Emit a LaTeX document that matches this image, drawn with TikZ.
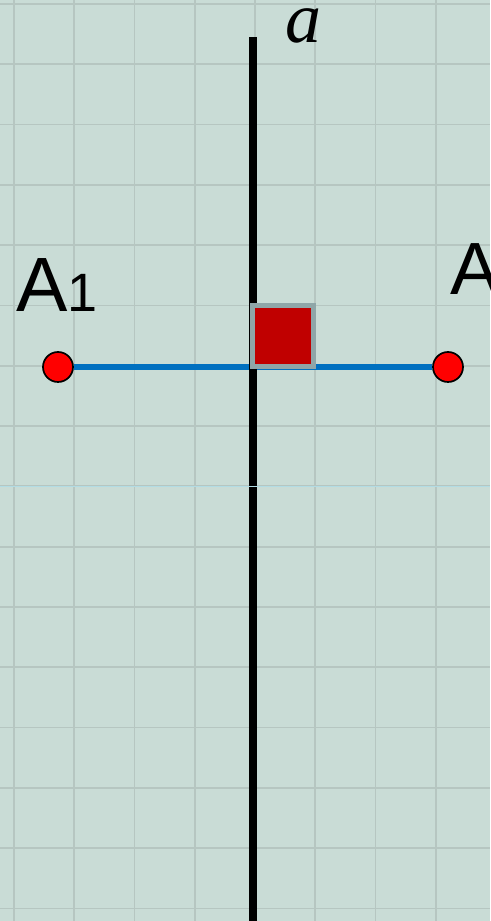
\documentclass[tikz,border=0pt]{standalone}
\usepackage{fontspec}
\setmainfont{Liberation Serif}
\newfontfamily\labelfont{Liberation Sans}
\usetikzlibrary{positioning}

\definecolor{paper}{HTML}{C9DCD6}
\definecolor{gridgray}{HTML}{B6C6C1}
\definecolor{segblue}{HTML}{0070C0}
\definecolor{markred}{HTML}{C00000}
\definecolor{markgray}{HTML}{8FA6A8}
\definecolor{paleblue}{HTML}{B2DCE4}

\tikzset{dot/.style={circle,fill=red,draw=black,line width=1.7pt,minimum size=30pt,inner sep=0pt}}
\tikzset{lbl/.style={inner sep=0pt,anchor=base west}}

\begin{document}
\begin{tikzpicture}[x=1pt,y=1pt]
  \useasboundingbox[fill=paper] (0,0) rectangle (490,921);
  % grid
  \foreach \i in {0,...,7} \draw[gridgray,line width=1.8pt] (14+60.25*\i,0) -- (14+60.25*\i,921);
  \foreach \j in {0,...,15} \draw[gridgray,line width=1.8pt] (0,917-60.3*\j) -- (490,917-60.3*\j);

  \node[dot] (A1) at (58,554) {};
  \node[dot] (A)  at (448,554) {};
  \coordinate (top) at (253,884);
  \coordinate (bot) at (253,0);
  \coordinate (fl) at (0,434.6);
  \coordinate (fr) at (490,434.6);

  \node[lbl] (lA1) at (16,609) {\labelfont\fontsize{77}{77}\selectfont A\fontsize{54}{54}\selectfont 1};
  \node[lbl] (lA)  at (450,626) {\labelfont\fontsize{74}{74}\selectfont A};
  \node[lbl] (la)  at (285,878) {\fontsize{72}{72}\selectfont\itshape a};

  \draw[segblue,line width=5.5pt] (A1) -- (A);
  \draw[black,line width=8pt] (top) -- (bot);
  \node[fill=markred,draw=markgray,line width=5pt,minimum size=61pt,inner sep=0pt] (sq) at (283,584.5) {};
  \draw[paleblue,line width=1.6pt] (fl) -- (fr);
\end{tikzpicture}
\end{document}
